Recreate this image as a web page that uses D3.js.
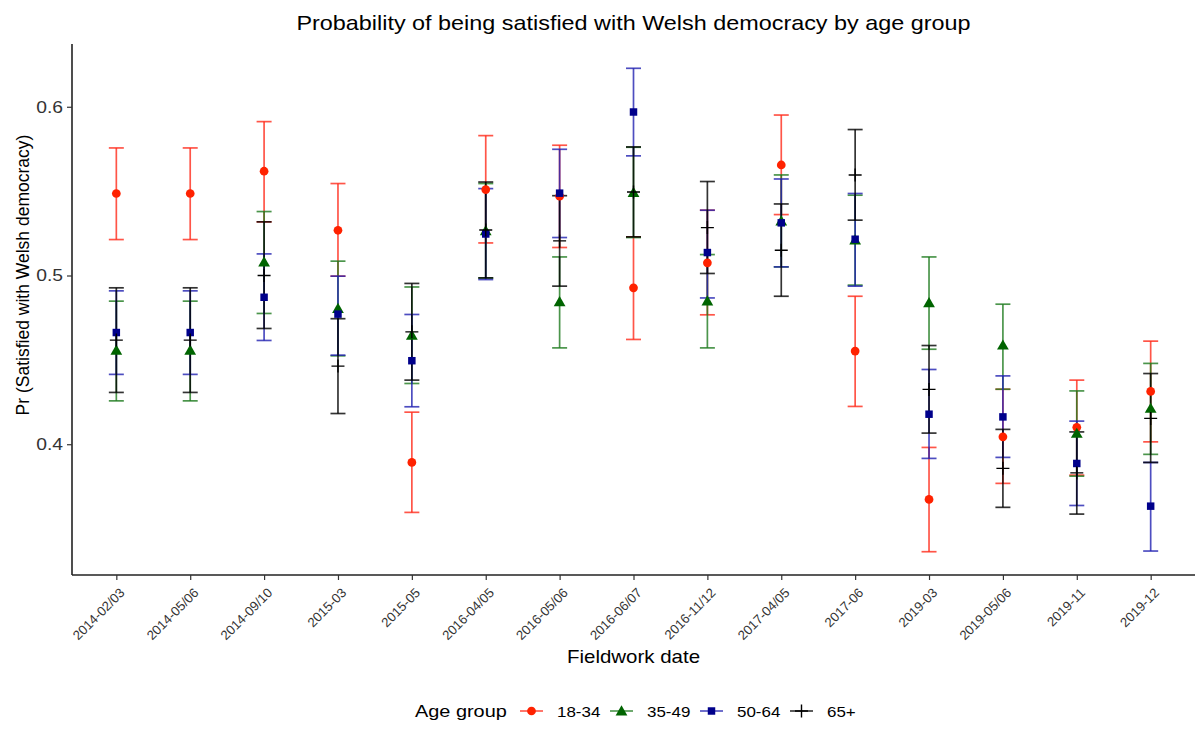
<!DOCTYPE html>
<html>
<head>
<meta charset="utf-8">
<script src="https://cdn.jsdelivr.net/npm/d3@7"></script>
<style>
  html, body { margin: 0; padding: 0; background: #ffffff; }
  svg text { font-family: "Liberation Sans", Arial, Helvetica, sans-serif; }
</style>
</head>
<body>
<svg id="chart" width="1200" height="731"></svg>
<script>
// Fieldwork waves (x categories)
const categories = ["2014-02/03", "2014-05/06", "2014-09/10", "2015-03", "2015-05",
  "2016-04/05", "2016-05/06", "2016-06/07", "2016-11/12", "2017-04/05",
  "2017-06", "2019-03", "2019-05/06", "2019-11", "2019-12"];

const ageGroups = ["18-34", "35-49", "50-64", "65+"];

// Predicted probabilities with confidence bounds, per age group
const est18 = [0.5486, 0.5486, 0.5618, 0.5268, 0.3892, 0.5509, 0.5470, 0.4927, 0.5075, 0.5655, 0.4552, 0.3673, 0.4044, 0.4100, 0.4313];
const lo18  = [0.5213, 0.5213, 0.5318, 0.4996, 0.3596, 0.5193, 0.5166, 0.4621, 0.4767, 0.5361, 0.4224, 0.3363, 0.3768, 0.3817, 0.4014];
const hi18  = [0.5756, 0.5756, 0.5912, 0.5545, 0.4190, 0.5829, 0.5772, 0.5229, 0.5387, 0.5951, 0.4877, 0.3981, 0.4326, 0.4380, 0.4611];

const est35 = [0.4557, 0.4557, 0.5079, 0.4804, 0.4646, 0.5265, 0.4844, 0.5492, 0.4848, 0.5323, 0.5210, 0.4838, 0.4587, 0.4064, 0.4212];
const lo35  = [0.4257, 0.4257, 0.4775, 0.4524, 0.4360, 0.4985, 0.4571, 0.5225, 0.4571, 0.5051, 0.4943, 0.4563, 0.4326, 0.3811, 0.3940];
const hi35  = [0.4848, 0.4848, 0.5379, 0.5085, 0.4932, 0.5545, 0.5110, 0.5760, 0.5124, 0.5596, 0.5476, 0.5110, 0.4830, 0.4316, 0.4479];

const est50 = [0.4662, 0.4662, 0.4871, 0.4771, 0.4495, 0.5246, 0.5488, 0.5969, 0.5136, 0.5312, 0.5215, 0.4178, 0.4162, 0.3886, 0.3633];
const lo50  = [0.4414, 0.4414, 0.4615, 0.4528, 0.4222, 0.4976, 0.5225, 0.5709, 0.4867, 0.5051, 0.4937, 0.3916, 0.3922, 0.3637, 0.3367];
const hi50  = [0.4909, 0.4909, 0.5128, 0.4996, 0.4769, 0.5515, 0.5748, 0.6228, 0.5387, 0.5572, 0.5486, 0.4443, 0.4405, 0.4137, 0.3892];

const est65 = [0.4617, 0.4617, 0.5000, 0.4463, 0.4666, 0.5270, 0.5205, 0.5495, 0.5284, 0.5150, 0.5596, 0.4325, 0.3857, 0.3830, 0.4153];
const lo65  = [0.4307, 0.4307, 0.4686, 0.4182, 0.4380, 0.4986, 0.4937, 0.5229, 0.5012, 0.4877, 0.5328, 0.4066, 0.3626, 0.3586, 0.3892];
const hi65  = [0.4927, 0.4927, 0.5318, 0.4744, 0.4953, 0.5554, 0.5473, 0.5762, 0.5557, 0.5424, 0.5865, 0.4585, 0.4088, 0.4073, 0.4419];

const yTicks = [0.4, 0.5, 0.6];

// Build one row per (group, wave)
const groupArrays = [
  [est18, lo18, hi18],
  [est35, lo35, hi35],
  [est50, lo50, hi50],
  [est65, lo65, hi65]
];
const rows = [];
ageGroups.forEach((g, gi) => {
  const [e, l, h] = groupArrays[gi];
  categories.forEach((c, ci) => rows.push({ group: g, cat: c, est: e[ci], lo: l[ci], hi: h[ci] }));
});

const lineColor = d3.scaleOrdinal().domain(ageGroups).range(["#ff2a1a", "#1e7a1e", "#2020b0", "#000000"]);
const pointColor = d3.scaleOrdinal().domain(ageGroups).range(["#ff2200", "#006400", "#00008b", "#000000"]);

const svg = d3.select("#chart");
const plotL = 72, plotR = 1195, plotT = 44, plotB = 575;
const stretch = 1.17; // horizontal widening of text glyphs

const x = d3.scalePoint().domain(categories).range([plotL, plotR]).padding(0.6);
const y = d3.scaleLinear().domain([0.3225, 0.6372]).range([plotB, plotT]);

// Text helper: positioned by transform so glyphs can be widened
function label(sel, tx, ty, str, size, anchor) {
  return sel.append("text")
    .attr("transform", `translate(${tx},${ty}) scale(${stretch},1)`)
    .attr("text-anchor", anchor || "start")
    .attr("font-size", size).attr("fill", "#000")
    .text(str);
}

// Title
label(svg, (plotL + plotR) / 2, 30, "Probability of being satisfied with Welsh democracy by age group", 20, "middle");

// Axes
const xAxis = svg.append("g").attr("transform", `translate(0,${plotB})`)
  .call(d3.axisBottom(x).tickSizeOuter(0).tickSize(5));
xAxis.select(".domain").attr("stroke", "#222").attr("stroke-width", 1.6)
  .attr("d", `M${plotL},0H${plotR}`);
xAxis.selectAll(".tick line").attr("stroke", "#333").attr("stroke-width", 1.2);
xAxis.selectAll(".tick text")
  .attr("font-size", 13.2).attr("fill", "#333")
  .attr("text-anchor", "end")
  .attr("x", 0).attr("dx", 0).attr("dy", 0)
  .attr("transform", "translate(3,13) rotate(-45)");

const yAxis = svg.append("g").attr("transform", `translate(${plotL},0)`)
  .call(d3.axisLeft(y).tickValues(yTicks).tickFormat(d3.format(".1f")).tickSizeOuter(0).tickSize(5));
yAxis.select(".domain").attr("stroke", "#222").attr("stroke-width", 1.6)
  .attr("d", `M0,${plotT}V${plotB}`);
yAxis.selectAll(".tick line").attr("stroke", "#333").attr("stroke-width", 1.2);
yAxis.selectAll(".tick text").attr("font-size", 16.5).attr("fill", "#333")
  .attr("x", 0).attr("transform", `translate(-9,0) scale(${stretch},1)`);

// Axis titles
label(svg, (plotL + plotR) / 2, 663, "Fieldwork date", 17.5, "middle");
svg.append("text")
  .attr("transform", `translate(29,${275}) rotate(-90)`)
  .attr("text-anchor", "middle").attr("font-size", 17.5).attr("fill", "#000")
  .text("Pr (Satisfied with Welsh democracy)");

// Error bars
const capHalf = 7.5;
const eb = svg.append("g").attr("fill", "none").attr("stroke-width", 1.7).attr("stroke-opacity", 0.8);
eb.selectAll("g.bar").data(rows).join("g").attr("class", "bar")
  .attr("stroke", d => lineColor(d.group))
  .each(function (d) {
    const g = d3.select(this);
    const cx = x(d.cat);
    g.append("line").attr("x1", cx).attr("x2", cx).attr("y1", y(d.lo)).attr("y2", y(d.hi));
    g.append("line").attr("x1", cx - capHalf).attr("x2", cx + capHalf).attr("y1", y(d.hi)).attr("y2", y(d.hi));
    g.append("line").attr("x1", cx - capHalf).attr("x2", cx + capHalf).attr("y1", y(d.lo)).attr("y2", y(d.lo));
  });

// Point markers: circle, triangle, square, plus
const symbolFor = d3.scaleOrdinal().domain(ageGroups)
  .range([d3.symbolCircle, d3.symbolTriangle, d3.symbolSquare, d3.symbolCross]);
const sizeFor = { "18-34": 60, "35-49": 60, "50-64": 56, "65+": 0 };

function drawMarker(sel, group, cx, cy) {
  if (group === "65+") {
    sel.append("path")
      .attr("d", `M${cx - 6.5},${cy}H${cx + 6.5}M${cx},${cy - 6.5}V${cy + 6.5}`)
      .attr("stroke", pointColor(group)).attr("stroke-width", 1.4).attr("fill", "none");
  } else {
    const off = group === "35-49" ? 1 : 0;
    sel.append("path")
      .attr("d", d3.symbol().type(symbolFor(group)).size(sizeFor[group])())
      .attr("transform", `translate(${cx},${cy + off})`)
      .attr("fill", pointColor(group));
  }
}

const pts = svg.append("g");
rows.forEach(d => drawMarker(pts, d.group, x(d.cat), y(d.est)));

// Legend
const lg = svg.append("g").attr("transform", "translate(0,711)");
label(lg, 415, 6, "Age group", 17);
const keyX = [520, 610, 700, 790];
ageGroups.forEach((g, i) => {
  const kx = keyX[i];
  lg.append("line").attr("x1", kx).attr("x2", kx + 23).attr("y1", 0).attr("y2", 0)
    .attr("stroke", lineColor(g)).attr("stroke-width", 1.6).attr("stroke-opacity", 0.8);
  drawMarker(lg, g, kx + 11.5, 0);
  label(lg, kx + 37, 5.5, g, 14.5);
});
</script>
</body>
</html>
